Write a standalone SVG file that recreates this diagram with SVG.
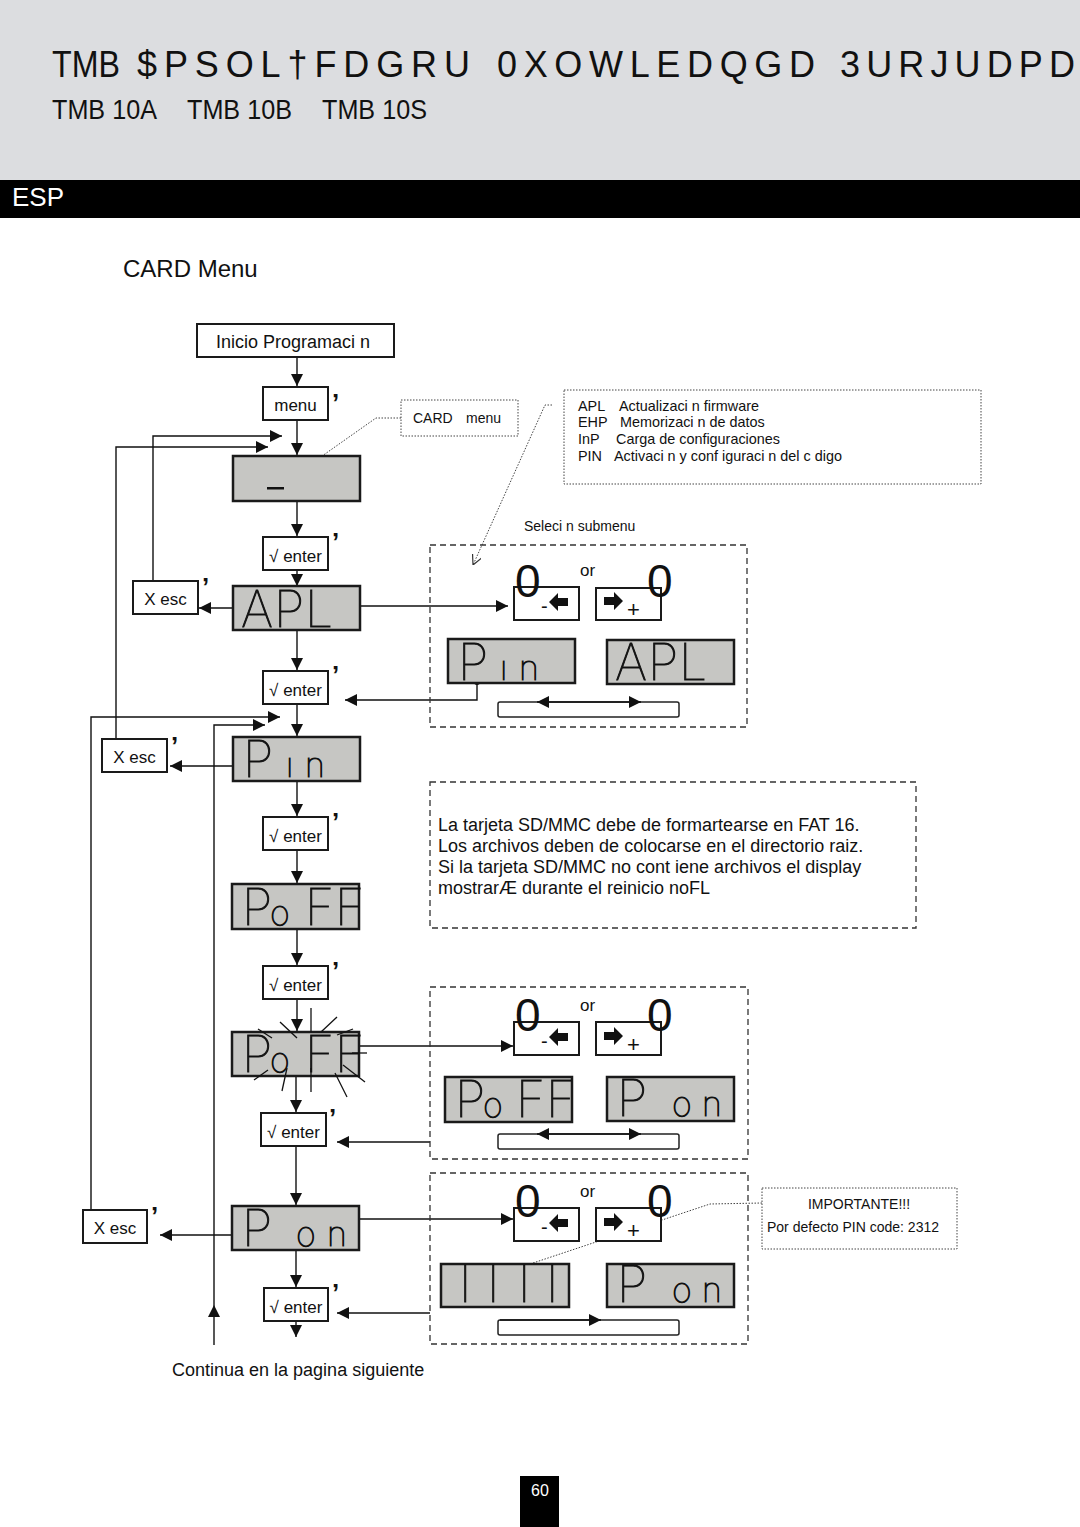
<svg xmlns="http://www.w3.org/2000/svg" width="1080" height="1527" viewBox="0 0 1080 1527">
<style>
.t{font-family:"Liberation Sans",Arial,sans-serif;fill:#111}
.box{fill:#fff;stroke:#1a1a1a;stroke-width:2}
.disp{fill:#c6c6c3;stroke:#1a1a1a;stroke-width:2.5}
.lcd{font-family:Inter,"DejaVu Sans",sans-serif;font-weight:100;fill:#111;stroke:#111;stroke-width:0.9}
.ln{fill:none;stroke:#111;stroke-width:1.4}
.dash{fill:none;stroke:#333;stroke-width:1.3;stroke-dasharray:6 4}
.dot{fill:none;stroke:#444;stroke-width:1;stroke-dasharray:1.5 1.5}
.cm{font-family:"Liberation Sans",Arial,sans-serif;font-weight:bold;font-size:26px;fill:#111}
.ray{stroke:#111;stroke-width:1.3}
.zero{font-family:"Liberation Sans",Arial,sans-serif;font-size:46px;fill:#111}
</style>
<defs>
<marker id="ah" viewBox="0 0 12 12" refX="12" refY="6" markerWidth="12" markerHeight="12" markerUnits="userSpaceOnUse" orient="auto"><path d="M0,0 L12,6 L0,12 z" fill="#111"/></marker>
<marker id="ahs" viewBox="0 0 10 10" refX="10" refY="5" markerWidth="10" markerHeight="10" markerUnits="userSpaceOnUse" orient="auto"><path d="M0,0 L10,5 L0,10" fill="none" stroke="#333" stroke-width="1.2"/></marker>
</defs>

<!-- header -->
<rect x="0" y="0" width="1080" height="180" fill="#dcdde0"/>
<text class="t" y="77" font-size="36"><tspan x="52" textLength="68" lengthAdjust="spacingAndGlyphs">TMB</tspan><tspan x="137" textLength="333" lengthAdjust="spacing">$PSOL†FDGRU</tspan><tspan x="497" textLength="318" lengthAdjust="spacing">0XOWLEDQGD</tspan><tspan x="840" textLength="235" lengthAdjust="spacing">3URJUDPD</tspan></text>
<text class="t" y="119" font-size="27"><tspan x="52" textLength="105" lengthAdjust="spacingAndGlyphs">TMB 10A</tspan><tspan x="187" textLength="105" lengthAdjust="spacingAndGlyphs">TMB 10B</tspan><tspan x="322" textLength="105" lengthAdjust="spacingAndGlyphs">TMB 10S</tspan></text>
<rect x="0" y="180" width="1080" height="38" fill="#000"/>
<text x="12" y="206" font-family="Liberation Sans,Arial,sans-serif" font-size="26" fill="#fff" textLength="52" lengthAdjust="spacingAndGlyphs">ESP</text>
<text class="t" x="123" y="277" font-size="24">CARD Menu</text>

<!-- connectors -->
<g id="connectors">
<line class="ln" x1="297" y1="357" x2="297" y2="386" marker-end="url(#ah)"/>
<line class="ln" x1="297" y1="420" x2="297" y2="455" marker-end="url(#ah)"/>
<line class="ln" x1="297" y1="501" x2="297" y2="536" marker-end="url(#ah)"/>
<line class="ln" x1="297" y1="570" x2="297" y2="586" marker-end="url(#ah)"/>
<line class="ln" x1="297" y1="630" x2="297" y2="670" marker-end="url(#ah)"/>
<line class="ln" x1="297" y1="704" x2="297" y2="736" marker-end="url(#ah)"/>
<line class="ln" x1="297" y1="781" x2="297" y2="816" marker-end="url(#ah)"/>
<line class="ln" x1="297" y1="850" x2="297" y2="883" marker-end="url(#ah)"/>
<line class="ln" x1="297" y1="929" x2="297" y2="965" marker-end="url(#ah)"/>
<line class="ln" x1="297" y1="999" x2="297" y2="1031" marker-end="url(#ah)"/>
<line class="ln" x1="296" y1="1076" x2="296" y2="1112" marker-end="url(#ah)"/>
<line class="ln" x1="296" y1="1146" x2="296" y2="1205" marker-end="url(#ah)"/>
<line class="ln" x1="296" y1="1250" x2="296" y2="1287" marker-end="url(#ah)"/>
<line class="ln" x1="296" y1="1321" x2="296" y2="1337" marker-end="url(#ah)"/>
<polyline class="ln" points="153,580 153,436 282,436" marker-end="url(#ah)"/>
<polyline class="ln" points="116,739 116,447 268,447" marker-end="url(#ah)"/>
<polyline class="ln" points="91,1210 91,717 280,717" marker-end="url(#ah)"/>
<line class="ln" x1="214" y1="1345" x2="214" y2="1305" marker-end="url(#ah)"/>
<polyline class="ln" points="214,1305 214,725 265,725" marker-end="url(#ah)"/>
<line class="ln" x1="233" y1="608" x2="199" y2="608" marker-end="url(#ah)"/>
<line class="ln" x1="360" y1="606" x2="508" y2="606" marker-end="url(#ah)"/>
<line class="ln" x1="233" y1="766" x2="170" y2="766" marker-end="url(#ah)"/>
<line class="ln" x1="359" y1="1046" x2="513" y2="1046" marker-end="url(#ah)"/>
<line class="ln" x1="232" y1="1235" x2="160" y2="1235" marker-end="url(#ah)"/>
<line class="ln" x1="359" y1="1219" x2="513" y2="1219" marker-end="url(#ah)"/>
<polyline class="ln" points="477,682 477,700 345,700" marker-end="url(#ah)"/>
<circle cx="477" cy="682" r="3" fill="#111"/>
<line class="ln" x1="430" y1="1142" x2="337" y2="1142" marker-end="url(#ah)"/>
<line class="ln" x1="430" y1="1313" x2="337" y2="1313" marker-end="url(#ah)"/>
<polyline class="dot" points="401,418 376,418 281,485" marker-end="url(#ahs)"/>
<polyline class="dot" points="552,405 545,405 473,565" marker-end="url(#ahs)"/>
<polyline class="dot" points="762,1203 710,1204 479,1281" marker-end="url(#ahs)"/>
</g>

<!-- left column nodes -->
<g id="start"><rect class="box" x="197" y="324" width="197" height="33"/><text class="t" x="293" y="348" font-size="18" text-anchor="middle">Inicio Programaci n</text></g>
<g id="menu"><rect class="box" x="263" y="387" width="65" height="33"/><text class="t" x="295.5" y="411" font-size="17" text-anchor="middle">menu</text><text class="cm" x="332" y="412">’</text></g>
<g id="disp-blank"><rect class="disp" x="233" y="456" width="127" height="45"/><rect x="267" y="487" width="17" height="2.5" fill="#111"/></g>
<g id="enter1"><rect class="box" x="263" y="537" width="65" height="33"/><text class="t" x="295.5" y="562" font-size="17" text-anchor="middle">√ enter</text><text class="cm" x="332" y="551">’</text></g>
<g id="esc1"><rect class="box" x="133" y="581" width="65" height="33"/><text class="t" x="165.5" y="605" font-size="17" text-anchor="middle">X esc</text><text class="cm" x="202" y="596">’</text></g>
<g id="disp-apl"><rect class="disp" x="233" y="586" width="127" height="44"/><text class="lcd" y="627" font-size="50"><tspan x="241">A</tspan><tspan x="274">P</tspan><tspan x="305">L</tspan></text></g>
<g id="enter2"><rect class="box" x="263" y="671" width="65" height="33"/><text class="t" x="295.5" y="696" font-size="17" text-anchor="middle">√ enter</text><text class="cm" x="332" y="684">’</text></g>
<g id="esc2"><rect class="box" x="102" y="739" width="65" height="33"/><text class="t" x="134.5" y="763" font-size="17" text-anchor="middle">X esc</text><text class="cm" x="171" y="755">’</text></g>
<g id="disp-pin"><rect class="disp" x="233" y="737" width="127" height="44"/><text class="lcd" y="777"><tspan x="243" font-size="50">P</tspan><tspan x="286" font-size="34">ı</tspan><tspan x="305" font-size="34">n</tspan></text></g>
<g id="enter3"><rect class="box" x="263" y="817" width="65" height="33"/><text class="t" x="295.5" y="842" font-size="17" text-anchor="middle">√ enter</text><text class="cm" x="332" y="831">’</text></g>
<g id="disp-poff"><rect class="disp" x="232" y="884" width="127" height="45"/><text class="lcd" y="925"><tspan x="242" font-size="50">P</tspan><tspan x="270" font-size="34">o</tspan><tspan x="305" font-size="50">F</tspan><tspan x="335" font-size="50">F</tspan></text></g>
<g id="enter4"><rect class="box" x="263" y="966" width="65" height="33"/><text class="t" x="295.5" y="991" font-size="17" text-anchor="middle">√ enter</text><text class="cm" x="332" y="980">’</text></g>
<g id="disp-poff-blink"><rect class="disp" x="232" y="1032" width="127" height="44"/><text class="lcd" y="1072"><tspan x="242" font-size="50">P</tspan><tspan x="270" font-size="34">o</tspan><tspan x="305" font-size="50">F</tspan><tspan x="335" font-size="50">F</tspan></text>
<line class="ray" x1="258" y1="1029" x2="272" y2="1038"/><line class="ray" x1="280" y1="1022" x2="297" y2="1038"/><line class="ray" x1="311" y1="1008" x2="311" y2="1032"/><line class="ray" x1="321" y1="1032" x2="337" y2="1017"/><line class="ray" x1="337" y1="1035" x2="353" y2="1029"/><line class="ray" x1="352" y1="1053" x2="367" y2="1053"/><line class="ray" x1="343" y1="1065" x2="365" y2="1082"/><line class="ray" x1="335" y1="1073" x2="347" y2="1097"/><line class="ray" x1="311" y1="1068" x2="311" y2="1092"/><line class="ray" x1="287" y1="1068" x2="282" y2="1091"/><line class="ray" x1="268" y1="1070" x2="254" y2="1080"/></g>
<g id="enter5"><rect class="box" x="261" y="1113" width="65" height="33"/><text class="t" x="293.5" y="1138" font-size="17" text-anchor="middle">√ enter</text><text class="cm" x="329" y="1127">’</text></g>
<g id="esc3"><rect class="box" x="83" y="1210" width="64" height="33"/><text class="t" x="115" y="1234" font-size="17" text-anchor="middle">X esc</text><text class="cm" x="151" y="1225">’</text></g>
<g id="disp-pon"><rect class="disp" x="232" y="1206" width="127" height="44"/><text class="lcd" y="1246"><tspan x="242" font-size="50">P</tspan><tspan x="296" font-size="34">o</tspan><tspan x="327" font-size="34">n</tspan></text></g>
<g id="enter6"><rect class="box" x="264" y="1288" width="64" height="33"/><text class="t" x="296" y="1313" font-size="17" text-anchor="middle">√ enter</text><text class="cm" x="332" y="1302">’</text></g>
<text class="t" x="172" y="1376" font-size="18">Continua en la pagina siguiente</text>

<!-- annotations -->
<g id="note-card"><rect class="dot" x="401" y="400" width="117" height="36"/><text class="t" x="413" y="423" font-size="14">CARD<tspan x="466">menu</tspan></text></g>
<g id="note-submenus"><rect class="dot" x="564" y="390" width="417" height="94"/>
<text class="t" font-size="14.4"><tspan x="578" y="411">APL</tspan><tspan x="619" y="411">Actualizaci n firmware</tspan><tspan x="578" y="427">EHP</tspan><tspan x="620" y="427">Memorizaci n de datos</tspan><tspan x="578" y="444">InP</tspan><tspan x="616" y="444">Carga de configuraciones</tspan><tspan x="578" y="461">PIN</tspan><tspan x="614" y="461">Activaci n y conf  iguraci n del c digo</tspan></text></g>
<text class="t" x="524" y="531" font-size="14">Seleci n submenu</text>

<!-- selection box 1 -->
<g id="select1"><rect class="dash" x="430" y="545" width="317" height="182"/>
<rect class="box" x="514" y="587" width="65" height="33"/><text class="t" x="541" y="613" font-size="20">-</text><path d="M549,602 L558,593 L558,598 L568,598 L568,606 L558,606 L558,611 z" fill="#111"/>
<rect class="box" x="596" y="588" width="65" height="32"/><path d="M623,601 L614,592 L614,597 L604,597 L604,605 L614,605 L614,610 z" fill="#111"/><text class="t" x="627" y="617" font-size="22">+</text>
<text class="zero" x="515" y="597">0</text><text class="t" x="580" y="576" font-size="17">or</text><text class="zero" x="647" y="597">0</text>
<rect class="disp" x="448" y="639" width="127" height="44"/><text class="lcd" y="680"><tspan x="458" font-size="50">P</tspan><tspan x="500" font-size="34">ı</tspan><tspan x="519" font-size="34">n</tspan></text>
<rect class="disp" x="607" y="640" width="127" height="44"/><text class="lcd" y="680" font-size="50"><tspan x="615">A</tspan><tspan x="648">P</tspan><tspan x="679">L</tspan></text>
<rect x="498" y="702" width="181" height="15" rx="2" fill="#fff" stroke="#222" stroke-width="1.5"/>
<line class="ln" x1="589" y1="702" x2="537" y2="702" marker-end="url(#ah)"/><line class="ln" x1="589" y1="702" x2="641" y2="702" marker-end="url(#ah)"/></g>

<!-- info note -->
<g id="note-sd"><rect class="dash" x="430" y="782" width="486" height="146"/>
<text class="t" font-size="18"><tspan x="438" y="831">La tarjeta SD/MMC debe de formartearse en FAT 16.</tspan><tspan x="438" y="852">Los archivos deben de colocarse en el directorio raiz.</tspan><tspan x="438" y="873">Si la tarjeta SD/MMC no cont  iene archivos el display</tspan><tspan x="438" y="894">mostrarÆ  durante el reinicio noFL</tspan></text></g>

<!-- selection box 2 -->
<g id="select2"><rect class="dash" x="430" y="987" width="318" height="172"/>
<rect class="box" x="514" y="1022" width="65" height="33"/><text class="t" x="541" y="1048" font-size="20">-</text><path d="M549,1037 L558,1028 L558,1033 L568,1033 L568,1041 L558,1041 L558,1046 z" fill="#111"/>
<rect class="box" x="596" y="1022" width="65" height="33"/><path d="M623,1036 L614,1027 L614,1032 L604,1032 L604,1040 L614,1040 L614,1045 z" fill="#111"/><text class="t" x="627" y="1052" font-size="22">+</text>
<text class="zero" x="515" y="1031">0</text><text class="t" x="580" y="1011" font-size="17">or</text><text class="zero" x="647" y="1031">0</text>
<rect class="disp" x="445" y="1077" width="127" height="45"/><text class="lcd" y="1117"><tspan x="455" font-size="50">P</tspan><tspan x="483" font-size="34">o</tspan><tspan x="516" font-size="50">F</tspan><tspan x="546" font-size="50">F</tspan></text>
<rect class="disp" x="607" y="1077" width="127" height="44"/><text class="lcd" y="1116"><tspan x="617" font-size="50">P</tspan><tspan x="672" font-size="34">o</tspan><tspan x="702" font-size="34">n</tspan></text>
<rect x="498" y="1134" width="181" height="15" rx="2" fill="#fff" stroke="#222" stroke-width="1.5"/>
<line class="ln" x1="589" y1="1134" x2="537" y2="1134" marker-end="url(#ah)"/><line class="ln" x1="589" y1="1134" x2="641" y2="1134" marker-end="url(#ah)"/></g>

<!-- selection box 3 -->
<g id="select3"><rect class="dash" x="430" y="1173" width="318" height="171"/>
<rect class="box" x="514" y="1208" width="65" height="33"/><text class="t" x="541" y="1234" font-size="20">-</text><path d="M549,1223 L558,1214 L558,1219 L568,1219 L568,1227 L558,1227 L558,1232 z" fill="#111"/>
<rect class="box" x="596" y="1208" width="65" height="33"/><path d="M623,1222 L614,1213 L614,1218 L604,1218 L604,1226 L614,1226 L614,1231 z" fill="#111"/><text class="t" x="627" y="1238" font-size="22">+</text>
<text class="zero" x="515" y="1217">0</text><text class="t" x="580" y="1197" font-size="17">or</text><text class="zero" x="647" y="1217">0</text>
<rect class="disp" x="441" y="1264" width="128" height="43"/><text class="lcd" y="1302" font-size="50"><tspan x="459">I</tspan><tspan x="487">I</tspan><tspan x="518">I</tspan><tspan x="546">I</tspan></text>
<rect class="disp" x="607" y="1264" width="127" height="43"/><text class="lcd" y="1302"><tspan x="617" font-size="50">P</tspan><tspan x="672" font-size="34">o</tspan><tspan x="702" font-size="34">n</tspan></text>
<rect x="498" y="1320" width="181" height="15" rx="2" fill="#fff" stroke="#222" stroke-width="1.5"/>
<line class="ln" x1="500" y1="1320" x2="601" y2="1320" marker-end="url(#ah)"/></g>

<g id="note-pin"><rect class="dot" x="762" y="1188" width="195" height="61"/><text class="t" x="859" y="1209" font-size="14" text-anchor="middle">IMPORTANTE!!!</text><text class="t" x="767" y="1232" font-size="14">Por defecto PIN code: 2312</text></g>

<g id="page"><rect x="520" y="1476" width="39" height="51" fill="#000"/><text x="540" y="1496" font-family="Liberation Sans,Arial,sans-serif" font-size="16" fill="#fff" text-anchor="middle">60</text></g>
</svg>
